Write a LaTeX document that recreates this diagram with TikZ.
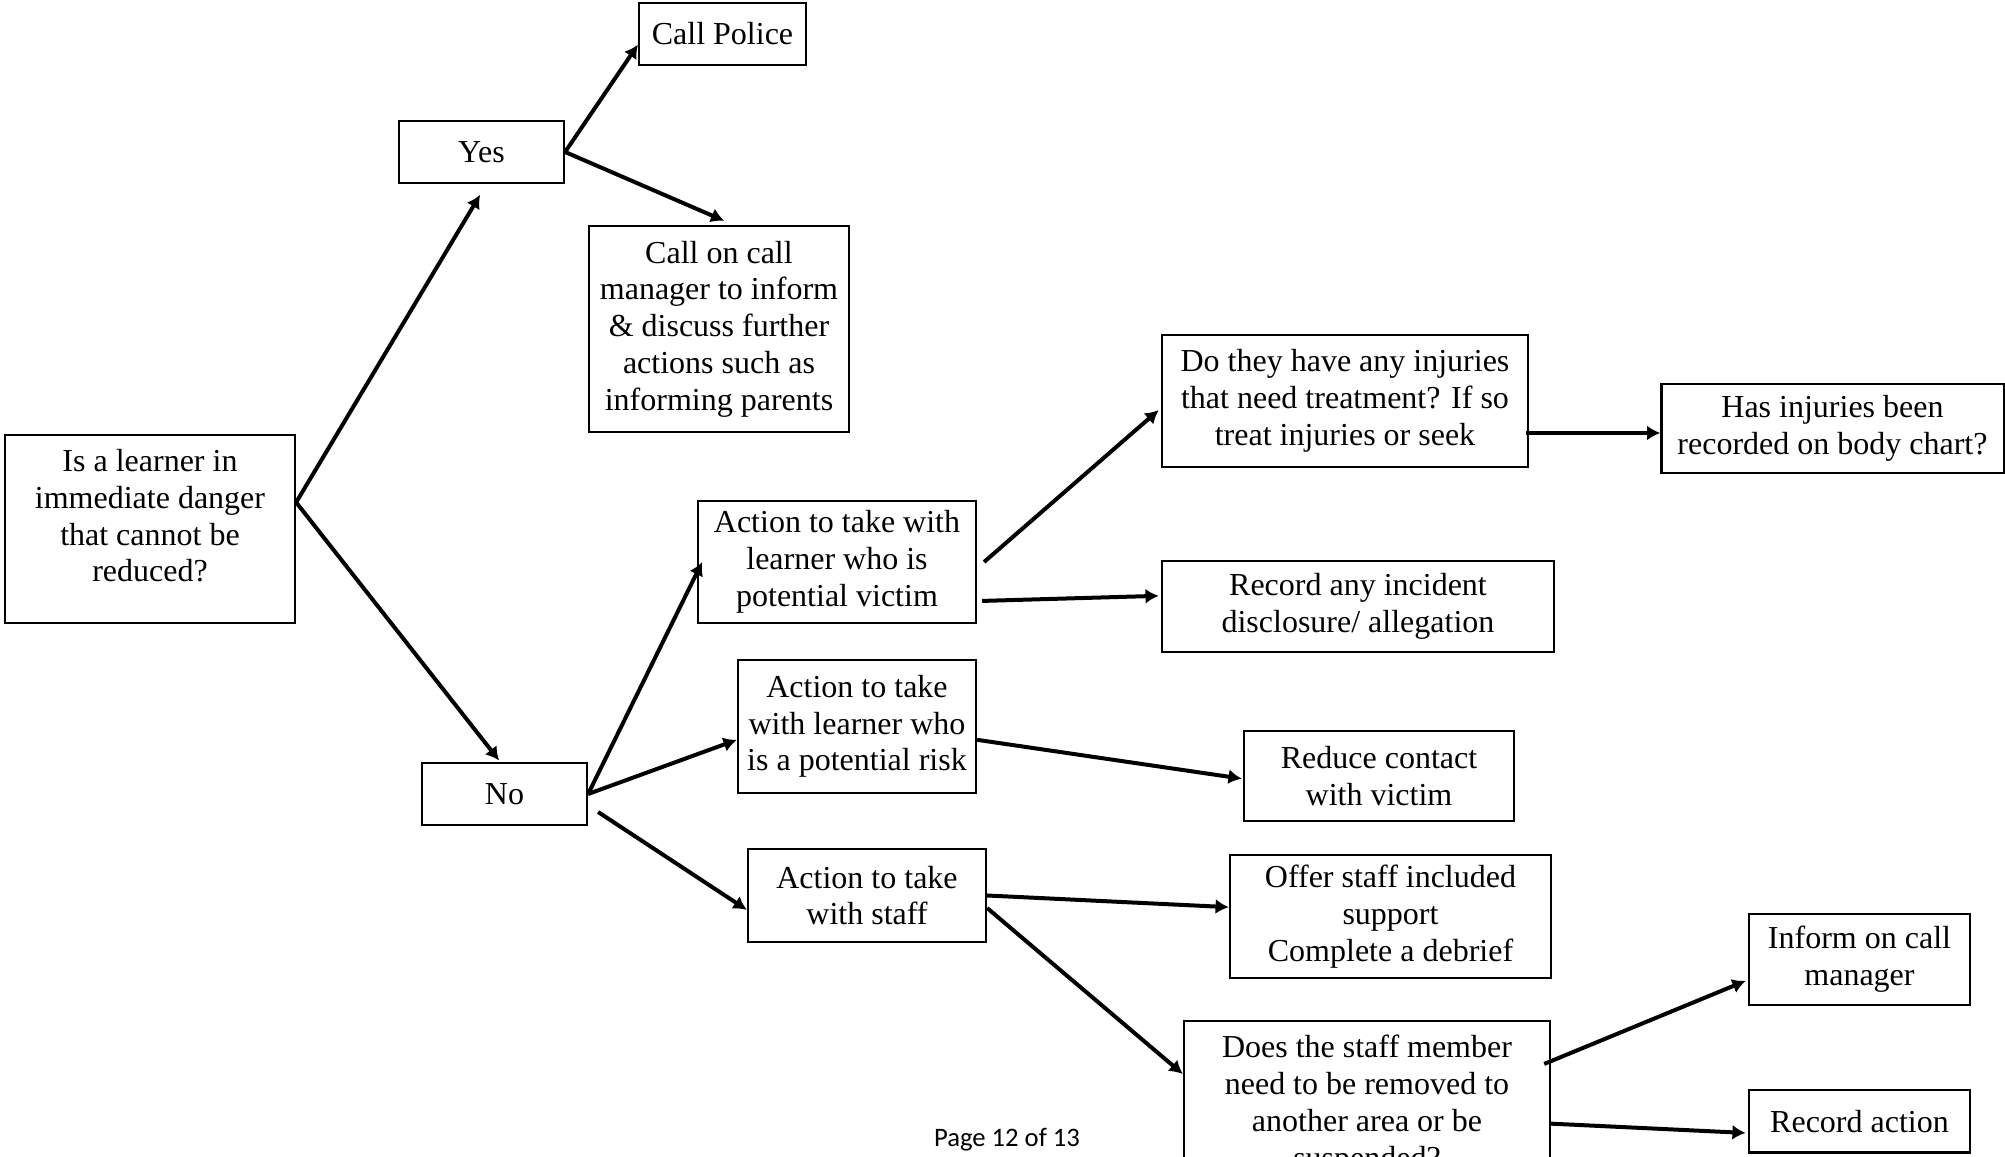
\documentclass[tikz,border=0pt]{standalone}
\usepackage{fontspec}
\setmainfont{Liberation Serif}
\newfontfamily\pagefont{Carlito}
\usetikzlibrary{arrows.meta}
\begin{document}
\begin{tikzpicture}[x=0.375pt, y=-0.375pt,
  box/.style={draw, line width=0.8pt, align=center, inner sep=0pt,
    font=\fontsize{12}{13.8}\selectfont},
  arr/.style={-{Latex[length=5pt,width=5.6pt]}, line width=1.5pt}]
\useasboundingbox (0,0) rectangle (2005,1157);
% domanda
\node[box, minimum width=108.8pt, minimum height=70.5pt] (main) at (150,529)
  {Is a learner in\\ immediate danger\\ that cannot be\\ reduced?\rule[-10pt]{0pt}{10pt}};
% si
\node[box, minimum width=61.9pt, minimum height=23.3pt] (yes) at (481.5,152) {Yes};
\node[box, minimum width=62.6pt, minimum height=23.3pt] (police) at (722.5,34) {Call Police};
\node[box, minimum width=97.5pt, minimum height=77.3pt] (mgr) at (719,329)
  {Call on call\\ manager to inform\\ \& discuss further\\ actions such as\\ informing parents};
% no
\node[box, minimum width=61.9pt, minimum height=23.3pt] (no) at (504.5,794) {No};
\node[box, minimum width=104.3pt, minimum height=45.8pt] (vict) at (837,562)
  {Action to take with\\ learner who is\\ potential victim};
\node[box, minimum width=89.3pt, minimum height=49.9pt] (risk) at (857,726.5)
  {Action to take\\ with learner who\\ is a potential risk};
\node[box, minimum width=89.3pt, minimum height=34.9pt] (staff) at (867,895.5)
  {Action to take\\ with staff};
% vittima
\node[box, minimum width=137.3pt, minimum height=49.5pt] (injur) at (1345,401)
  {Do they have any injuries\\ that need treatment? If so\\ treat injuries or seek};
\node[box, minimum width=128.3pt, minimum height=33.4pt] (chart) at (1832.5,428.5)
  {Has injuries been\\ recorded on body chart?};
\node[box, minimum width=147pt, minimum height=34.1pt] (rec) at (1358,606.5)
  {Record any incident\\ disclosure/ allegation};
% rischio
\node[box, minimum width=101.3pt, minimum height=33.8pt] (reduce) at (1379,776)
  {Reduce contact\\ with victim};
% personale
\node[box, minimum width=120.4pt, minimum height=46.1pt] (offer) at (1390.5,916.5)
  {Offer staff included\\ support\\ Complete a debrief};
\node[box, minimum width=137.3pt, minimum height=63pt] (remove) at (1367,1105)
  {Does the staff member\\ need to be removed to\\ another area or be\\ suspended?};
\node[box, minimum width=82.9pt, minimum height=34.1pt] (inform) at (1859.5,959.5)
  {Inform on call\\ manager};
\node[box, minimum width=82.9pt, minimum height=23.3pt] (recact) at (1859.5,1121.5)
  {Record action};
% frecce
\draw[arr] ([yshift=10pt]main.east) -- ([xshift=-0.5pt,yshift=-4pt]yes.south);
\draw[arr] ([yshift=10pt]main.east) -- ([xshift=-2pt,yshift=0.5pt]no.north);
\draw[arr] (yes.east) -- ([yshift=-4pt]police.west);
\draw[arr] (yes.east) -- ([xshift=2pt,yshift=1.5pt]mgr.north);
\draw[arr] (no.east) -- ([xshift=2pt]vict.west);
\draw[arr] (no.east) -- ([yshift=-5pt]risk.west);
\draw[arr] ([xshift=3.75pt,yshift=-6.75pt]no.east) -- ([yshift=-5.4pt]staff.west);
\draw[arr] ([xshift=2.6pt]vict.east) -- ([xshift=-0.8pt,yshift=-3.4pt]injur.west);
\draw[arr] ([xshift=1.9pt,yshift=-14.6pt]vict.east) -- ([xshift=-0.8pt,yshift=4pt]rec.west);
\draw[arr] ([xshift=-1pt,yshift=-12pt]injur.east) -- ([yshift=-12pt]injur.east -| chart.west);
\draw[arr] ([yshift=-5pt]risk.east) -- ([xshift=-0.4pt,yshift=-1pt]reduce.west);
\draw[arr] (staff.east) -- ([yshift=3.5pt]offer.west);
\draw[arr] ([yshift=-4.7pt]staff.east) -- ([yshift=11.6pt]remove.west);
\draw[arr] ([xshift=-2.6pt,yshift=15.4pt]remove.east) -- ([xshift=-0.8pt,yshift=-8pt]inform.west);
\draw[arr] ([yshift=-7pt]remove.east) -- ([xshift=-0.8pt,yshift=-4.3pt]recact.west);
% pagina
\node[font=\pagefont\fontsize{10}{12}\selectfont] (page) at (1007,1140) {Page 12 of 13};
\end{tikzpicture}
\end{document}
